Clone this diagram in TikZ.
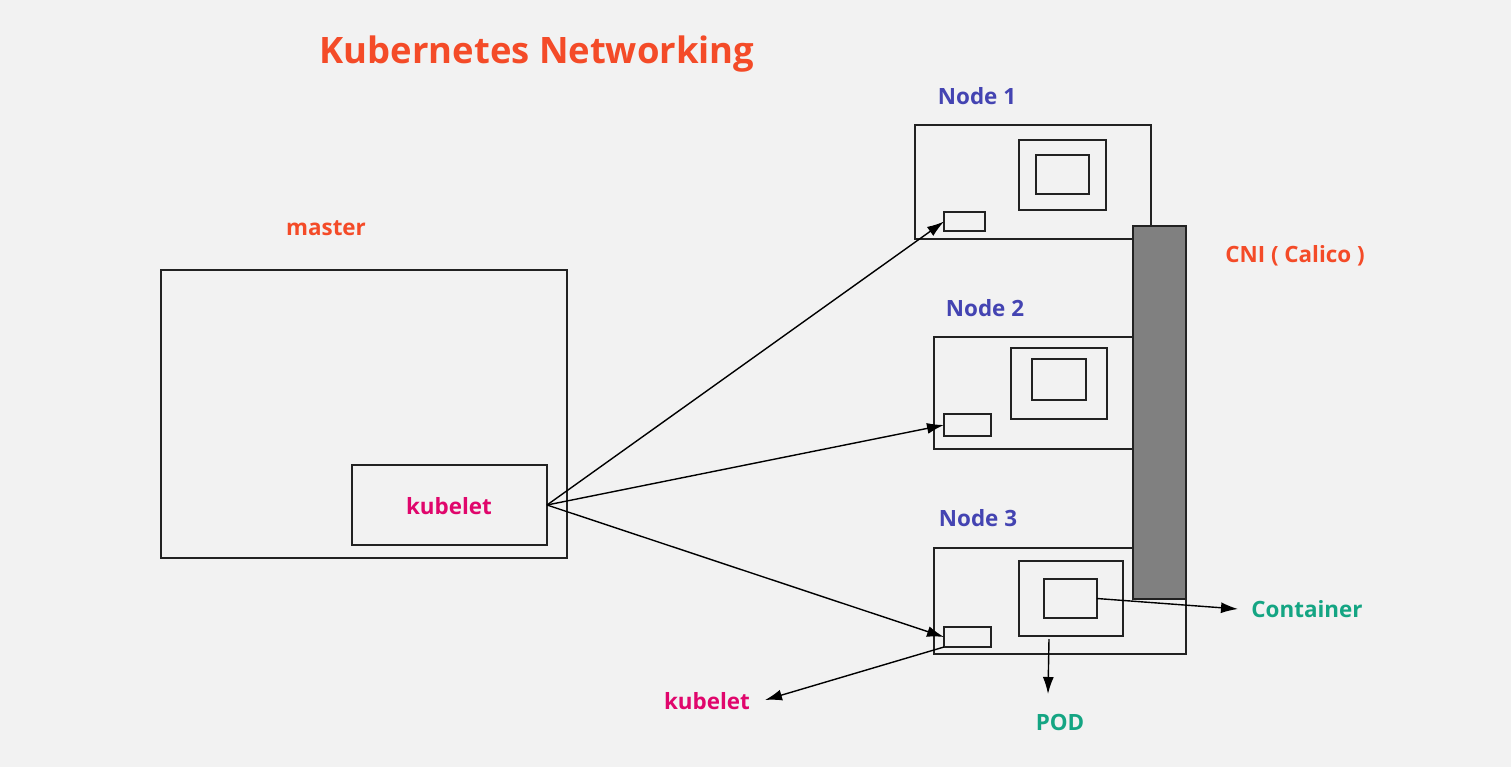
\documentclass[tikz,border=0pt]{standalone}
\usepackage{fontspec}
\setmainfont{Open Sans}
\usetikzlibrary{arrows.meta}
\definecolor{bg}{HTML}{F2F2F2}
\definecolor{ored}{HTML}{F44B28}
\definecolor{nblue}{HTML}{4444B2}
\definecolor{kmag}{HTML}{E0066C}
\definecolor{tgreen}{HTML}{14A583}
\definecolor{edge}{HTML}{222222}
\definecolor{cni}{HTML}{808080}
\tikzset{
  box/.style={draw=edge, line width=1.4pt, inner sep=0pt, outer sep=0pt, fill=none},
  lbl/.style={font=\bfseries\fontsize{11.2}{13}\selectfont, inner sep=0pt},
  conn/.style={draw=black, line width=0.7pt, -{Latex[length=8.5pt,width=5.5pt]}},
}
\begin{document}
\begin{tikzpicture}[x=0.5pt,y=-0.5pt]
\fill[bg] (0,0) rectangle (1511,767);
\useasboundingbox (0,0) rectangle (1511,767);

% title
\node[lbl, text=ored, font=\bfseries\fontsize{18.2}{21}\selectfont] (title) at (537,54) {Kubernetes Networking};

% master
\node[lbl, text=ored] (masterlbl) at (326,228) {master};
\node[box, minimum width=203pt, minimum height=144pt] (master) at (364,414) {};
\node[box, minimum width=97.5pt, minimum height=40pt] (kub) at (449.5,505) {};
\node[lbl, text=kmag] (kublbl) at (449,506) {kubelet};

% node 1
\node[lbl, text=nblue] (n1lbl) at (977,96) {Node 1};
\node[box, minimum width=118pt, minimum height=57pt] (n1) at (1033,182) {};
\node[box, minimum width=43.5pt, minimum height=35pt] (p1) at (1062.5,175) {};
\node[box, minimum width=26.5pt, minimum height=19.5pt] (c1) at (1062.5,174.5) {};
\node[box, minimum width=20.5pt, minimum height=9.5pt] (k1) at (964.5,221.5) {};

% node 2
\node[lbl, text=nblue] (n2lbl) at (985,308) {Node 2};
\node[box, minimum width=99.5pt, minimum height=56pt] (n2) at (1033.5,393) {};
\node[box, minimum width=48pt, minimum height=35.5pt] (p2) at (1059,383.5) {};
\node[box, minimum width=27pt, minimum height=20.5pt] (c2) at (1059,379.5) {};
\node[box, minimum width=23.5pt, minimum height=11pt] (k2) at (967.5,425) {};

% node 3
\node[lbl, text=nblue] (n3lbl) at (978,518) {Node 3};
\node[box, minimum width=126pt, minimum height=53pt] (n3) at (1060,601) {};
\node[box, minimum width=52pt, minimum height=37.5pt] (p3) at (1071,598.5) {};
\node[box, minimum width=26.5pt, minimum height=19.5pt] (c3) at (1070.5,598.5) {};
\node[box, minimum width=23.5pt, minimum height=10pt] (k3) at (967.5,637) {};

% CNI bar
\node[box, fill=cni, minimum width=26.5pt, minimum height=186.5pt] (cnibar) at (1159.5,412.5) {};
\node[lbl, text=ored] (cnilbl) at (1295,256) {CNI ( Calico )};

% labels
\node[lbl, text=kmag] (klbl) at (707,701) {kubelet};
\node[lbl, text=tgreen] (podlbl) at (1060,722) {POD};
\node[lbl, text=tgreen] (contlbl) at (1307,609) {Container};

\coordinate (ktip) at (765,700);
\coordinate (podstart) at (1049,639);
\coordinate (podtip) at (1048,694);
\coordinate (ctip) at (1238,609);

% connectors
\draw[conn] (kub.east) -- (k1.west);
\draw[conn] (kub.east) -- (k2.west);
\draw[conn] (kub.east) -- (k3.west);
\draw[conn] (k3.south west) -- (ktip);
\draw[conn] (podstart) -- (podtip);
\draw[conn] (c3.east) -- (ctip);
\end{tikzpicture}
\end{document}
